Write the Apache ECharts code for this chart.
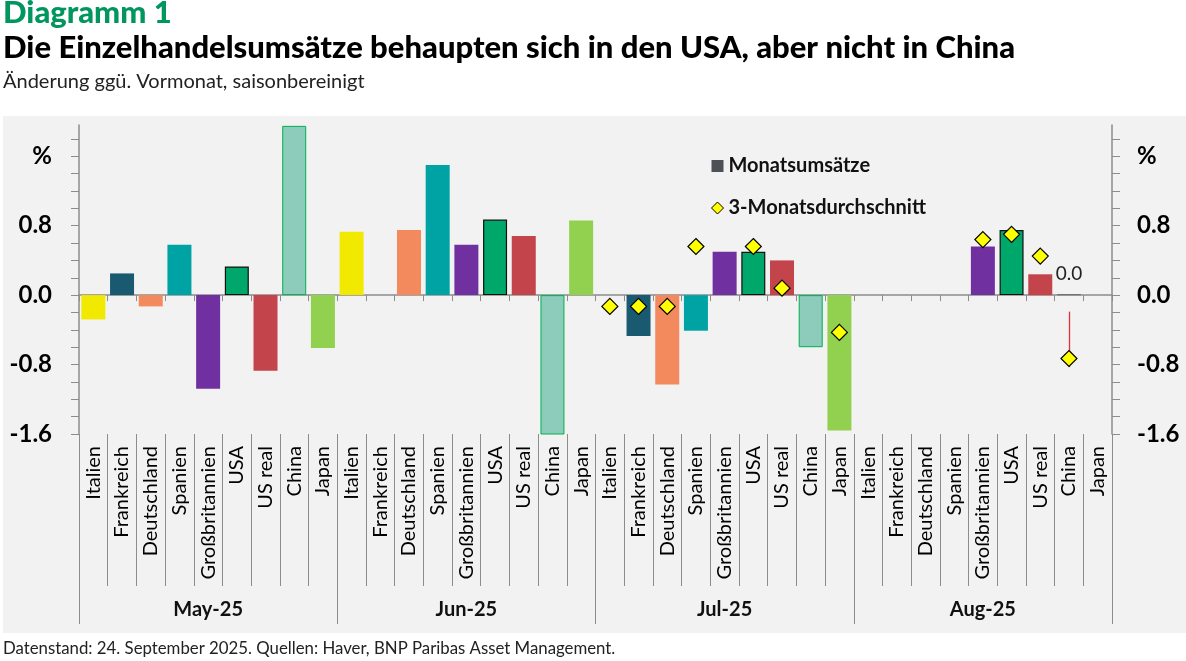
<!DOCTYPE html>
<html>
<head>
<meta charset="utf-8">
<script src="https://cdn.jsdelivr.net/npm/echarts@6/dist/echarts.min.js"></script>
<style>
html,body{margin:0;padding:0;background:#fff;}
#chart{width:1186px;height:661px;}
</style>
</head>
<body>
<div id="chart"></div>
<script>
// ---- data ----
const countries = ['Italien','Frankreich','Deutschland','Spanien','Großbritannien','USA','US real','China','Japan'];
const months = ['May-25','Jun-25','Jul-25','Aug-25'];
// monthly retail sales change, % m/m (null = no value)
const salesMay = [-0.28, 0.25, -0.13, 0.58, -1.08, 0.33, -0.87, 1.95, -0.61];
const salesJun = [0.73, null, 0.75, 1.50, 0.58, 0.87, 0.68, -1.65, 0.86];
const salesJul = [null, -0.47, -1.03, -0.41, 0.50, 0.50, 0.40, -0.60, -1.56];
const salesAug = [null, null, null, null, 0.56, 0.75, 0.24, 0.01, null];
// 3-month average
const avgMay = [null, null, null, null, null, null, null, null, null];
const avgJun = [null, null, null, null, null, null, null, null, null];
const avgJul = [-0.13, -0.13, -0.13, 0.56, null, 0.56, 0.08, null, -0.43];
const avgAug = [null, null, null, null, 0.64, 0.70, 0.45, -0.73, null];
// red range line at Aug China
const rangeAugChina = [-0.19, -0.83];
const yTicks = [-1.6,-1.4,-1.2,-1.0,-0.8,-0.6,-0.4,-0.2,0,0.2,0.4,0.6,0.8,1.0,1.2,1.4,1.6,1.8];
const yLabels = [-1.6,-0.8,0,0.8,1.6];
const labeledAugChina = 'China';

// ---- styling ----
const countryColors = {
  'Italien':'#f2e900','Frankreich':'#1a5a70','Deutschland':'#f28a5d','Spanien':'#00a3a3',
  'Großbritannien':'#7030a0','USA':'#00a76a','US real':'#c4444b','China':'#8dcbbb','Japan':'#92d050'
};
const FONT = 'Lato, "Noto Sans", sans-serif';
const GRAY = '#8c8c8c';

const categories = [];
months.forEach(() => countries.forEach(c => categories.push(c)));
const salesAll = [].concat(salesMay, salesJun, salesJul, salesAug);
const avgAll = [].concat(avgMay, avgJun, avgJul, avgAug);
const chinaAugIdx = 9*3 + countries.indexOf(labeledAugChina);

const barData = salesAll.map((v, i) => {
  const c = categories[i];
  const item = { value: v, itemStyle: { color: countryColors[c] } };
  if (c === 'USA') { item.itemStyle.borderColor = '#111'; item.itemStyle.borderWidth = 1.2; }
  if (c === 'China') { item.itemStyle.borderColor = '#00b050'; item.itemStyle.borderWidth = 1; }
  if (i === chinaAugIdx) {
    item.itemStyle = { color: '#666', borderColor: '#666', borderWidth: 0.6 };
    item.label = { show: true, position: 'top', distance: 11, formatter: p => (Math.round(p.value*10)/10).toFixed(1),
      fontFamily: FONT, fontSize: 19, color: '#222' };
  }
  return item;
});

const chart = echarts.init(document.getElementById('chart'), null, {renderer: 'canvas'});
chart.setOption({
  animation: false,
  backgroundColor: '#ffffff',
  graphic: [
    { type: 'rect', z: -10, silent: true, shape: { x: 3, y: 116, width: 1183, height: 517 }, style: { fill: '#f2f2f2' } },
    { type: 'text', left: 3, top: -3, style: { text: 'Diagramm 1', fontFamily: FONT, fontWeight: 900, fontSize: 31, fill: '#00965e' } },
    { type: 'text', left: 3, top: 32, style: { text: 'Die Einzelhandelsumsätze behaupten sich in den USA, aber nicht in China', fontFamily: FONT, fontWeight: 900, fontSize: 31, fill: '#000' } },
    { type: 'text', left: 3, top: 72, style: { text: 'Änderung ggü. Vormonat, saisonbereinigt', fontFamily: FONT, fontWeight: 'normal', fontSize: 20, fill: '#222' } },
    { type: 'text', left: 3, top: 640, style: { text: 'Datenstand: 24. September 2025. Quellen: Haver, BNP Paribas Asset Management.', fontFamily: FONT, fontSize: 16.8, fill: '#222' } }
  ],
  legend: {
    orient: 'vertical', left: 706, top: 151, itemWidth: 12, itemHeight: 12, itemGap: 22,
    textStyle: { fontFamily: FONT, fontSize: 20, fontWeight: 'bold', color: '#111' },
    data: [
      { name: 'Monatsumsätze', icon: 'rect', itemStyle: { color: '#4d5156', borderWidth: 0 } },
      { name: '3-Monatsdurchschnitt', icon: 'diamond', itemStyle: { color: '#ffff00', borderColor: '#000', borderWidth: 1 } }
    ]
  },
  grid: { left: 79, right: 74, top: 125, bottom: 227, containLabel: false, outerBoundsMode: 'none' },
  xAxis: [
    { type: 'category', data: categories, position: 'bottom', boundaryGap: true,
      axisLine: { show: false, onZero: false },
      axisTick: { show: true, interval: 0, length: 152, lineStyle: { color: GRAY } },
      axisLabel: { interval: 0, rotate: 90, margin: 12, fontFamily: FONT, fontSize: 20, color: '#000' },
      splitLine: { show: false } },
    { type: 'category', data: months, position: 'bottom', boundaryGap: true,
      axisLine: { show: false, onZero: false },
      axisTick: { show: true, interval: 0, length: 190, lineStyle: { color: GRAY } },
      axisLabel: { interval: 0, margin: 166, fontFamily: FONT, fontSize: 20, fontWeight: 'bold', color: '#111' },
      splitLine: { show: false } },
    { type: 'category', data: categories, position: 'bottom', boundaryGap: true,
      axisLine: { show: true, onZero: true, onZeroAxisIndex: 0, lineStyle: { color: GRAY, width: 1.5 } },
      axisTick: { show: true, interval: 0, length: 6, lineStyle: { color: GRAY } },
      axisLabel: { show: false },
      splitLine: { show: false } }
  ],
  yAxis: [
    { type: 'value', position: 'left', min: -1.6, max: 1.96,
      axisLine: { show: true, onZero: false, lineStyle: { color: GRAY, width: 1.5 } },
      axisTick: { show: true, length: 8, customValues: yTicks, lineStyle: { color: GRAY } },
      axisLabel: { customValues: yLabels, margin: 27, fontFamily: FONT, fontSize: 24, fontWeight: 'bold', color: '#000',
        formatter: v => Math.abs(v - 1.6) < 1e-6 ? '%' : v.toFixed(1) },
      splitLine: { show: false } },
    { type: 'value', position: 'right', min: -1.6, max: 1.96,
      axisLine: { show: true, onZero: false, lineStyle: { color: GRAY, width: 1.5 } },
      axisTick: { show: true, length: 8, customValues: yTicks, lineStyle: { color: GRAY } },
      axisLabel: { customValues: yLabels, margin: 25, fontFamily: FONT, fontSize: 24, fontWeight: 'bold', color: '#000',
        formatter: v => Math.abs(v - 1.6) < 1e-6 ? '%' : v.toFixed(1) },
      splitLine: { show: false } }
  ],
  series: [
    { name: 'Monatsumsätze', type: 'bar', xAxisIndex: 0, yAxisIndex: 0, barWidth: 24, clip: true,
      itemStyle: { color: '#4d5156' }, data: barData, z: 2,
      markLine: { silent: true, symbol: ['none','none'], z: 3, label: { show: false },
        lineStyle: { color: '#e0303c', width: 1.3, type: 'solid', opacity: 1 },
        emphasis: { disabled: true },
        data: [[ { coord: [chinaAugIdx, rangeAugChina[0]], lineStyle: { color: '#e0303c' } }, { coord: [chinaAugIdx, rangeAugChina[1]] } ]] } },
    { name: '3-Monatsdurchschnitt', type: 'line', xAxisIndex: 0, yAxisIndex: 0, z: 10,
      data: avgAll, symbol: 'diamond', symbolSize: 16, showSymbol: true, connectNulls: false,
      lineStyle: { width: 0, opacity: 0 },
      itemStyle: { color: '#ffff00', borderColor: '#000', borderWidth: 1.2 } }
  ]
});
</script>
</body>
</html>
